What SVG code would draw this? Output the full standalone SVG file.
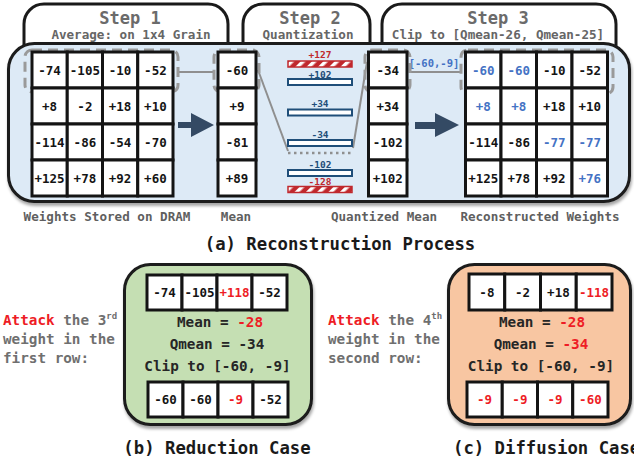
<svg xmlns="http://www.w3.org/2000/svg" width="634" height="464" viewBox="0 0 634 464">
<style>
  .mono{font-family:"DejaVu Sans Mono","Liberation Mono",monospace;font-weight:bold}
  .cell{fill:#fff;stroke:#141414;stroke-width:3}
  .num{font-size:12.5px;text-anchor:middle;fill:#141414}
  .blue{fill:#4472c4}
  .red{fill:#ee1c25}
  .tab{fill:#fff;stroke:#1a1a1a;stroke-width:3}
  .tabT{font-size:17px;text-anchor:middle;fill:#6b6b6b}
  .tabS{font-size:12.6px;text-anchor:middle;fill:#666}
  .lbl{font-size:12.6px;text-anchor:middle;fill:#5f5f5f}
  .cap{font-size:17.3px;fill:#1a1a1a}
  .dash{fill:none;stroke:#9a9a9a;stroke-width:3;stroke-dasharray:10 6}
  .link{fill:none;stroke:#8f8f8f;stroke-width:2}
  .qbar{fill:#fff;stroke:#1f4e79;stroke-width:2}
  .hbar{fill:url(#hatch);stroke:#c0282d;stroke-width:1.5}
  .qlbl{font-size:9.5px;text-anchor:middle;fill:#1f4e79}
  .qred{fill:#c0282d}
  .arrow{fill:#344a64}
  .side{font-size:14.3px;fill:#6f6f6f}
  .box{font-size:14.3px;text-anchor:middle;fill:#262626}
</style>
<defs>
  <pattern id="hatch" width="8" height="8" patternUnits="userSpaceOnUse" patternTransform="rotate(45)">
    <rect width="8" height="8" fill="#c0282d"/>
    <rect width="3.5" height="8" fill="#fff"/>
  </pattern>
  <filter id="shadow" x="-5%" y="-5%" width="110%" height="115%">
    <feDropShadow dx="1" dy="3" stdDeviation="1.5" flood-color="#000" flood-opacity="0.35"/>
  </filter>
</defs>
<rect width="634" height="464" fill="#fff"/>

<!-- step tabs -->
<g id="step1">
  <path class="tab" d="M24,46 V24 A20,20 0 0 1 44,4 H208 A20,20 0 0 1 228,24 V46"/>
  <text class="mono tabT" x="130" y="24">Step 1</text>
  <text class="mono tabS" x="131" y="38.5">Average: on 1x4 Grain</text>
</g>
<g id="step2">
  <path class="tab" d="M243,46 V24 A20,20 0 0 1 263,4 H350 A20,20 0 0 1 370,24 V46"/>
  <text class="mono tabT" x="310" y="24">Step 2</text>
  <text class="mono tabS" x="308" y="38.5">Quantization</text>
</g>
<g id="step3">
  <path class="tab" d="M382,46 V24 A20,20 0 0 1 402,4 H596 A20,20 0 0 1 616,24 V46"/>
  <text class="mono tabT" x="498" y="24">Step 3</text>
  <text class="mono tabS" x="498" y="38.5">Clip to [Qmean-26, Qmean-25]</text>
</g>

<!-- main panel -->
<g id="panel">
  <rect x="8.5" y="43.5" width="621" height="158" rx="26" fill="#ddeaf6" stroke="#1a1a1a" stroke-width="3" filter="url(#shadow)"/>
</g>

<!-- connectors -->
<g id="connectors">
  <path class="link" d="M178,72 H214"/>
  <path class="link" d="M258,70 L288,151"/>
  <path d="M288,153 H353" fill="none" stroke="#8f8f8f" stroke-width="2.5" stroke-dasharray="2.5 3.5"/>
  <path class="link" d="M353,148 L367,62"/>
  <path class="link" d="M410,72 H462"/>
  <text class="mono qlbl" x="434" y="67" style="fill:#4472c4;font-size:10.5px">[-60,-9]</text>
  <polygon class="arrow" points="178,122 191,122 191,113 214,125 191,137 191,128 178,128"/>
  <polygon class="arrow" points="415,122 435,122 435,113 459,125 435,137 435,129 415,129"/>
</g>

<!-- weights stored on DRAM -->
<g id="weights">
  <rect class="dash" x="25" y="50" width="153" height="42" rx="7"/>
  <g>
    <rect class="cell" x="32" y="52" width="35.25" height="36"/><rect class="cell" x="67.25" y="52" width="35.25" height="36"/><rect class="cell" x="102.5" y="52" width="35.25" height="36"/><rect class="cell" x="137.75" y="52" width="35.25" height="36"/>
    <rect class="cell" x="32" y="88" width="35.25" height="36"/><rect class="cell" x="67.25" y="88" width="35.25" height="36"/><rect class="cell" x="102.5" y="88" width="35.25" height="36"/><rect class="cell" x="137.75" y="88" width="35.25" height="36"/>
    <rect class="cell" x="32" y="124" width="35.25" height="36"/><rect class="cell" x="67.25" y="124" width="35.25" height="36"/><rect class="cell" x="102.5" y="124" width="35.25" height="36"/><rect class="cell" x="137.75" y="124" width="35.25" height="36"/>
    <rect class="cell" x="32" y="160" width="35.25" height="36"/><rect class="cell" x="67.25" y="160" width="35.25" height="36"/><rect class="cell" x="102.5" y="160" width="35.25" height="36"/><rect class="cell" x="137.75" y="160" width="35.25" height="36"/>
  </g>
  <g class="mono num">
    <text x="49.6" y="74.5">-74</text><text x="84.9" y="74.5">-105</text><text x="120.1" y="74.5">-10</text><text x="155.4" y="74.5">-52</text>
    <text x="49.6" y="110.5">+8</text><text x="84.9" y="110.5">-2</text><text x="120.1" y="110.5">+18</text><text x="155.4" y="110.5">+10</text>
    <text x="49.6" y="146.5">-114</text><text x="84.9" y="146.5">-86</text><text x="120.1" y="146.5">-54</text><text x="155.4" y="146.5">-70</text>
    <text x="49.6" y="182.5">+125</text><text x="84.9" y="182.5">+78</text><text x="120.1" y="182.5">+92</text><text x="155.4" y="182.5">+60</text>
  </g>
  <text class="mono lbl" x="107" y="221">Weights Stored on DRAM</text>
</g>

<!-- mean column -->
<g id="mean">
  <rect class="dash" x="214" y="50" width="45" height="42" rx="7"/>
  <rect class="cell" x="218" y="52" width="38" height="36"/><rect class="cell" x="218" y="88" width="38" height="36"/><rect class="cell" x="218" y="124" width="38" height="36"/><rect class="cell" x="218" y="160" width="38" height="36"/>
  <g class="mono num">
    <text x="237" y="74.5">-60</text><text x="237" y="110.5">+9</text><text x="237" y="146.5">-81</text><text x="237" y="182.5">+89</text>
  </g>
  <text class="mono lbl" x="236" y="221">Mean</text>
</g>

<!-- quantization levels -->
<g id="quantization">
  <text class="mono qlbl qred" x="320" y="58">+127</text>
  <rect class="hbar" x="288" y="61" width="64" height="6"/>
  <text class="mono qlbl" x="320" y="77.5">+102</text>
  <rect class="qbar" x="288" y="79" width="64" height="6"/>
  <text class="mono qlbl" x="320" y="106.5">+34</text>
  <rect class="qbar" x="288" y="109.5" width="64" height="6"/>
  <text class="mono qlbl" x="320" y="138">-34</text>
  <rect class="qbar" x="288" y="140" width="64" height="6"/>
  <text class="mono qlbl" x="320" y="167.5">-102</text>
  <rect class="qbar" x="288" y="170" width="64" height="6"/>
  <text class="mono qlbl qred" x="320" y="185">-128</text>
  <rect class="hbar" x="288" y="186.5" width="64" height="6"/>
</g>

<!-- quantized mean column -->
<g id="qmean">
  <rect class="dash" x="365" y="50" width="45" height="42" rx="7"/>
  <rect class="cell" x="368.5" y="52" width="38.5" height="36"/><rect class="cell" x="368.5" y="88" width="38.5" height="36"/><rect class="cell" x="368.5" y="124" width="38.5" height="36"/><rect class="cell" x="368.5" y="160" width="38.5" height="36"/>
  <g class="mono num">
    <text x="387.7" y="74.5">-34</text><text x="387.7" y="110.5">+34</text><text x="387.7" y="146.5">-102</text><text x="387.7" y="182.5">+102</text>
  </g>
  <text class="mono lbl" x="384" y="221">Quantized Mean</text>
</g>

<!-- reconstructed weights -->
<g id="reconstructed">
  <rect class="dash" x="461" y="50" width="152" height="44" rx="7"/>
  <g>
    <rect class="cell" x="465.5" y="52" width="35.5" height="36"/><rect class="cell" x="501" y="52" width="35.5" height="36"/><rect class="cell" x="536.5" y="52" width="35.5" height="36"/><rect class="cell" x="572" y="52" width="35.5" height="36"/>
    <rect class="cell" x="465.5" y="88" width="35.5" height="36"/><rect class="cell" x="501" y="88" width="35.5" height="36"/><rect class="cell" x="536.5" y="88" width="35.5" height="36"/><rect class="cell" x="572" y="88" width="35.5" height="36"/>
    <rect class="cell" x="465.5" y="124" width="35.5" height="36"/><rect class="cell" x="501" y="124" width="35.5" height="36"/><rect class="cell" x="536.5" y="124" width="35.5" height="36"/><rect class="cell" x="572" y="124" width="35.5" height="36"/>
    <rect class="cell" x="465.5" y="160" width="35.5" height="36"/><rect class="cell" x="501" y="160" width="35.5" height="36"/><rect class="cell" x="536.5" y="160" width="35.5" height="36"/><rect class="cell" x="572" y="160" width="35.5" height="36"/>
  </g>
  <g class="mono num">
    <text class="blue" x="483.2" y="74.5">-60</text><text class="blue" x="518.7" y="74.5">-60</text><text x="554.2" y="74.5">-10</text><text x="589.7" y="74.5">-52</text>
    <text class="blue" x="483.2" y="110.5">+8</text><text class="blue" x="518.7" y="110.5">+8</text><text x="554.2" y="110.5">+18</text><text x="589.7" y="110.5">+10</text>
    <text x="483.2" y="146.5">-114</text><text x="518.7" y="146.5">-86</text><text class="blue" x="554.2" y="146.5">-77</text><text class="blue" x="589.7" y="146.5">-77</text>
    <text x="483.2" y="182.5">+125</text><text x="518.7" y="182.5">+78</text><text x="554.2" y="182.5">+92</text><text class="blue" x="589.7" y="182.5">+76</text>
  </g>
  <text class="mono lbl" x="540" y="221">Reconstructed Weights</text>
</g>

<text class="mono cap" x="340" y="250" text-anchor="middle">(a) Reconstruction Process</text>

<!-- reduction case -->
<g id="reduction">
  <text class="mono side" x="3" y="325"><tspan class="red">Attack</tspan> the 3<tspan font-size="9" dy="-6">rd</tspan></text>
  <text class="mono side" x="3" y="344">weight in the</text>
  <text class="mono side" x="3" y="363">first row:</text>
  <rect x="124.5" y="264.5" width="187" height="160" rx="26" fill="#c5dfb3" stroke="#1a1a1a" stroke-width="3" filter="url(#shadow)"/>
  <rect class="cell" x="147" y="275" width="35" height="35"/><rect class="cell" x="182" y="275" width="35" height="35"/><rect class="cell" x="217" y="275" width="35" height="35"/><rect class="cell" x="252" y="275" width="35" height="35"/>
  <g class="mono num">
    <text x="164.5" y="297">-74</text><text x="199.5" y="297">-105</text><text class="red" x="234.5" y="297">+118</text><text x="269.5" y="297">-52</text>
  </g>
  <text class="mono box" x="220" y="327">Mean = <tspan class="red">-28</tspan></text>
  <text class="mono box" x="217" y="349">Qmean = -34</text>
  <text class="mono box" x="217.5" y="371">Clip to [-60, -9]</text>
  <rect class="cell" x="148" y="382" width="35" height="35"/><rect class="cell" x="183" y="382" width="35" height="35"/><rect class="cell" x="218" y="382" width="35" height="35"/><rect class="cell" x="253" y="382" width="35" height="35"/>
  <g class="mono num">
    <text x="165.5" y="404">-60</text><text x="200.5" y="404">-60</text><text class="red" x="235.5" y="404">-9</text><text x="270.5" y="404">-52</text>
  </g>
  <text class="mono cap" x="217" y="454" text-anchor="middle">(b) Reduction Case</text>
</g>

<!-- diffusion case -->
<g id="diffusion">
  <text class="mono side" x="328" y="325"><tspan class="red">Attack</tspan> the 4<tspan font-size="9" dy="-6">th</tspan></text>
  <text class="mono side" x="328" y="344">weight in the</text>
  <text class="mono side" x="328" y="363">second row:</text>
  <rect x="448.5" y="264.5" width="182" height="160" rx="26" fill="#f8c6a2" stroke="#1a1a1a" stroke-width="3" filter="url(#shadow)"/>
  <rect class="cell" x="469" y="274" width="35.75" height="36"/><rect class="cell" x="504.75" y="274" width="35.75" height="36"/><rect class="cell" x="540.5" y="274" width="35.75" height="36"/><rect class="cell" x="576.25" y="274" width="35.75" height="36"/>
  <g class="mono num">
    <text x="486.9" y="296.5">-8</text><text x="522.6" y="296.5">-2</text><text x="558.4" y="296.5">+18</text><text class="red" x="594.1" y="296.5">-118</text>
  </g>
  <text class="mono box" x="542" y="327">Mean = <tspan class="red">-28</tspan></text>
  <text class="mono box" x="541" y="349">Qmean = <tspan class="red">-34</tspan></text>
  <text class="mono box" x="541" y="371">Clip to [-60, -9]</text>
  <rect class="cell" x="467" y="382" width="35.25" height="35"/><rect class="cell" x="502.25" y="382" width="35.25" height="35"/><rect class="cell" x="537.5" y="382" width="35.25" height="35"/><rect class="cell" x="572.75" y="382" width="35.25" height="35"/>
  <g class="mono num">
    <text class="red" x="484.6" y="404">-9</text><text class="red" x="519.9" y="404">-9</text><text class="red" x="555.1" y="404">-9</text><text class="red" x="590.4" y="404">-60</text>
  </g>
  <text class="mono cap" x="453" y="454">(c) Diffusion Case</text>
</g>
</svg>
